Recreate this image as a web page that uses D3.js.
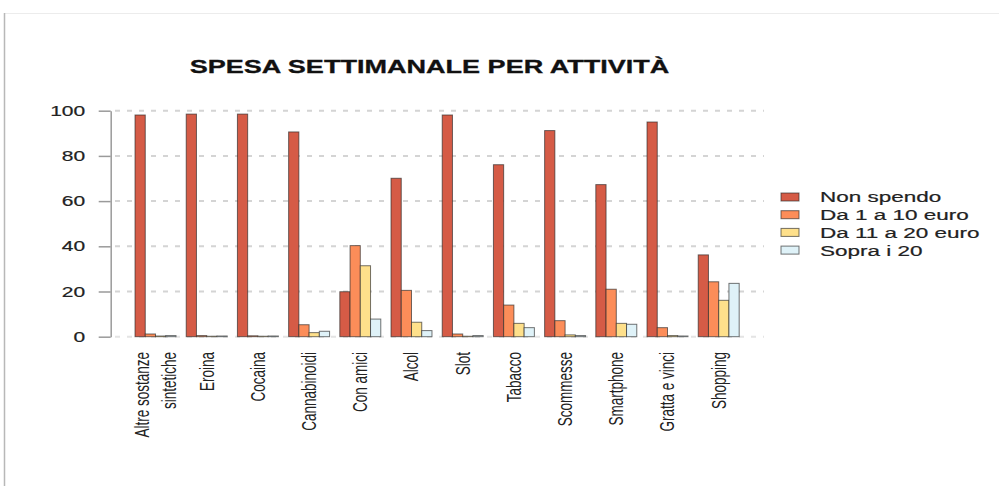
<!DOCTYPE html>
<html>
<head>
  <meta charset="UTF-8">
  <title>Spesa settimanale per attività</title>
  <script src="https://d3js.org/d3.v7.min.js"></script>
  <style>
    body { margin: 0; background: #fff; }
    text { font-family: "Liberation Sans", Arial, sans-serif; fill: #222; }
  </style>
</head>
<body>

<div class="chart"></div>

<script>

  // data (percentages)
  var categories = ['Altre sostanze\nsintetiche', 'Eroina', 'Cocaina', 'Cannabinoidi', 'Con amici', 'Alcol',
                    'Slot', 'Tabacco', 'Scommesse', 'Smartphone', 'Gratta e vinci', 'Shopping'];
  var seriesNames = ['Non spendo', 'Da 1 a 10 euro', 'Da 11 a 20 euro', 'Sopra i 20'];
  var nonSpendo = [98.1, 98.5, 98.5, 90.6, 19.9, 70.1, 98.1, 76.1, 91.2, 67.3, 95.0, 36.2];
  var da1a10    = [1.2, 0.5, 0.4, 5.3, 40.3, 20.5, 1.2, 14.0, 7.1, 21.0, 4.0, 24.3];
  var da11a20   = [0.3, 0.2, 0.2, 1.8, 31.4, 6.4, 0.2, 5.9, 0.8, 5.9, 0.5, 16.1];
  var sopra20   = [0.5, 0.3, 0.3, 2.4, 7.8, 2.7, 0.5, 4.0, 0.5, 5.5, 0.3, 23.6];
  var yTicks = [0, 20, 40, 60, 80, 100];

  var colors = ['#d55b46', '#fc8d59', '#fee08b', '#dff2f8'];
  var stretch = 1.45;   // the text in the picture is widened horizontally

  var width = 999, height = 486;

  var svg = d3.select('.chart')
    .append('svg')
      .attr('width', width)
      .attr('height', height);

  // frame of the screenshot
  svg.append('line')
    .attr('x1', 4).attr('x2', width).attr('y1', 13.5).attr('y2', 13.5)
    .style('stroke', '#ececec').style('stroke-width', 1);
  svg.append('line')
    .attr('x1', 4.5).attr('x2', 4.5).attr('y1', 13).attr('y2', height)
    .style('stroke', '#b8b8b8').style('stroke-width', 1.5);

  var table = categories.map((c, i) => ({
    cat: c,
    values: [nonSpendo[i], da1a10[i], da11a20[i], sopra20[i]]
  }));

  var yScale = d3.scaleLinear().domain([0, 100]).range([336.7, 110.7]);

  var xScale = d3.scaleBand()
    .domain(categories)
    .range([129.9, 744.3])
    .paddingInner(0.2)
    .paddingOuter(0.1);

  var xInner = d3.scaleBand()
    .domain(d3.range(seriesNames.length))
    .range([0, xScale.bandwidth()]);

  // dashed grid
  svg.append('g')
    .selectAll('line')
    .data(yTicks)
    .enter()
    .append('line')
      .attr('x1', 115).attr('x2', 764)
      .attr('y1', d => yScale(d)).attr('y2', d => yScale(d))
      .style('stroke', d => d === 0 ? '#e4e4e4' : '#d4d4d4')
      .style('stroke-width', 2)
      .style('stroke-dasharray', '5,7');

  // y axis
  var yAxis = svg.append('g')
    .attr('transform', 'translate(110.7, 0)')
    .call(d3.axisLeft(yScale).tickValues(yTicks).tickSize(12).tickSizeOuter(0));
  yAxis.select('.domain').style('stroke', '#9a9a9a').style('stroke-width', 1.5);
  yAxis.selectAll('.tick line').style('stroke', '#9a9a9a').style('stroke-width', 1.5);
  yAxis.selectAll('.tick text')
    .attr('x', -25.5 / stretch)
    .attr('transform', `scale(${stretch},1)`)
    .style('font-size', '14.5px')
    .style('font-family', '"Liberation Sans", Arial, sans-serif')
    .style('fill', '#222')
    .style('stroke', '#222').style('stroke-width', 0.2);

  // bars
  var groups = svg.append('g')
    .selectAll('g')
    .data(table)
    .enter()
    .append('g')
      .attr('transform', d => `translate(${xScale(d.cat)}, 0)`);

  groups.selectAll('rect')
    .data(d => d.values)
    .enter()
    .append('rect')
      .attr('x', (d, i) => xInner(i))
      .attr('y', d => yScale(d))
      .attr('width', xInner.bandwidth())
      .attr('height', d => yScale(0) - yScale(d))
      .style('fill', (d, i) => colors[i])
      .style('stroke', 'rgba(40,40,40,0.65)')
      .style('stroke-width', 1);

  // rotated category labels
  var labels = svg.append('g')
    .selectAll('g')
    .data(categories)
    .enter()
    .append('g')
      .attr('transform', d => `translate(${xScale(d) + xScale.bandwidth() / 2}, 352) scale(${stretch},1) rotate(-90)`);

  labels.each(function (d) {
    var lines = d.split('\n');
    d3.select(this).selectAll('text')
      .data(lines)
      .enter()
      .append('text')
        .attr('x', 0)
        .attr('y', (l, i) => (i - (lines.length - 1) / 2) * 18.6)
        .attr('dy', '0.35em')
        .attr('text-anchor', 'end')
        .style('font-size', '13.5px')
        .text(l => l);
  });

  // title
  svg.append('text')
    .attr('transform', `translate(429.5, 73) scale(1.47,1)`)
    .attr('text-anchor', 'middle')
    .style('font-size', '18.4px')
    .style('font-weight', 'bold')
    .style('fill', '#111')
    .style('stroke', '#111').style('stroke-width', 0.3)
    .text('SPESA SETTIMANALE PER ATTIVITÀ');

  // legend
  var legend = svg.append('g')
    .selectAll('g')
    .data(seriesNames)
    .enter()
    .append('g')
      .attr('transform', (d, i) => `translate(781, ${197 + i * 17.7})`);

  legend.append('rect')
    .attr('x', 0).attr('y', -4)
    .attr('width', 18).attr('height', 8)
    .style('fill', (d, i) => colors[i])
    .style('stroke', 'rgba(40,40,40,0.65)')
    .style('stroke-width', 1);

  legend.append('text')
    .attr('transform', `translate(39, 0) scale(1.5,1)`)
    .attr('dy', '0.36em')
    .style('font-size', '15px')
    .style('stroke', '#222').style('stroke-width', 0.2)
    .text(d => d);

</script>

</body>
</html>
